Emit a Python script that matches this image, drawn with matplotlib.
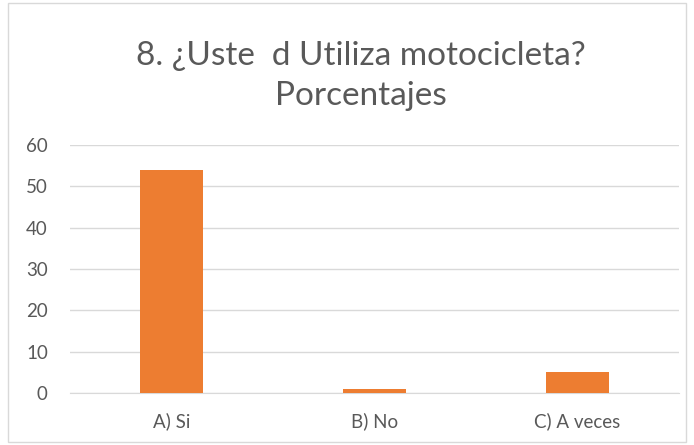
import matplotlib.pyplot as plt
from matplotlib.patches import Rectangle

categories = ['A) Si', 'B) No', 'C) A veces']
values = [54, 1, 5]
title = '8. ¿Uste  d Utiliza motocicleta?\nPorcentajes'

plt.rcParams['font.family'] = ['Lato', 'DejaVu Sans']

fig = plt.figure(figsize=(6.94, 4.45), dpi=100)
ax = fig.add_axes([0.101, 0.117, 0.877, 0.557])

ax.bar(range(len(categories)), values, width=0.31, color='#ED7D31', zorder=3)

ax.set_xlim(-0.5, len(categories) - 0.5)
ax.set_ylim(0, 60)
ax.set_yticks(range(0, 61, 10))
ax.set_xticks(range(len(categories)))
ax.set_xticklabels(categories)
ax.tick_params(axis='both', length=0, labelsize=13.5, colors='#595959')
ax.tick_params(axis='y', pad=16)
ax.tick_params(axis='x', pad=14)
ax.grid(axis='y', color='#D9D9D9', linewidth=1, zorder=0)
for s in ['top', 'right', 'left']:
    ax.spines[s].set_visible(False)
ax.spines['bottom'].set_color('#D9D9D9')

fig.text(0.52, 0.829, title, ha='center', va='center', fontsize=24,
         color='#595959', linespacing=1.4)

fig.patches.append(Rectangle((0.012, 0.007), 0.976, 0.986, transform=fig.transFigure,
                             fill=False, edgecolor='#D9D9D9', linewidth=1))

fig.savefig('out.png', dpi=100)
